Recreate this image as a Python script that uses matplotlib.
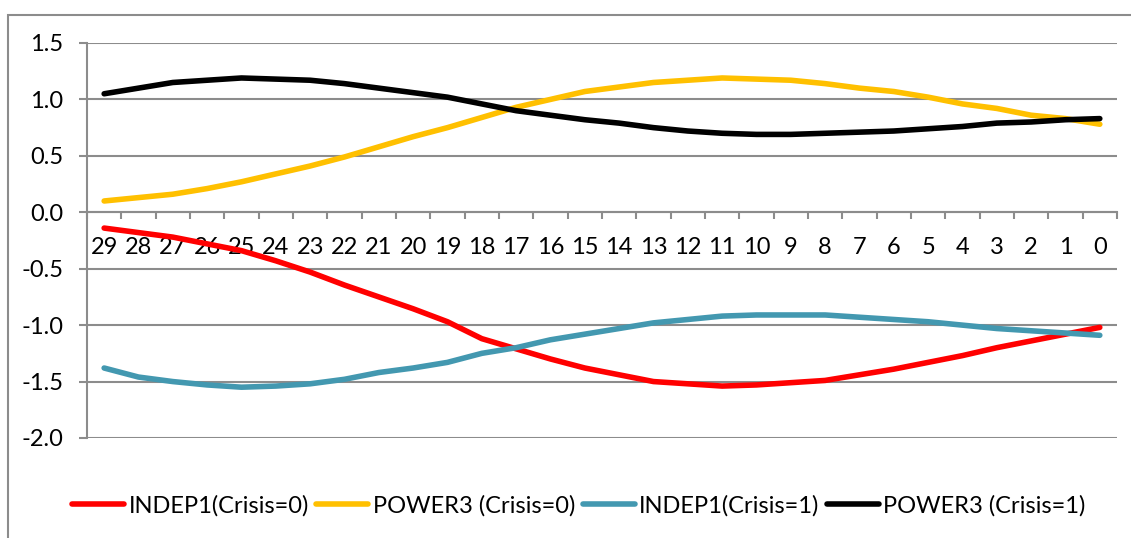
import numpy as np
import matplotlib.pyplot as plt
from matplotlib.patches import Rectangle

# Periods before the event (categories, left to right)
periods = ['29', '28', '27', '26', '25', '24', '23', '22', '21', '20',
           '19', '18', '17', '16', '15', '14', '13', '12', '11', '10',
           '9', '8', '7', '6', '5', '4', '3', '2', '1', '0']

indep1_c0 = [-0.14, -0.18, -0.22, -0.28, -0.34, -0.43, -0.53, -0.645, -0.75, -0.855,
             -0.97, -1.12, -1.21, -1.30, -1.38, -1.44, -1.50, -1.52, -1.54, -1.53,
             -1.51, -1.49, -1.44, -1.39, -1.33, -1.27, -1.20, -1.14, -1.08, -1.02]
power3_c0 = [0.10, 0.13, 0.16, 0.21, 0.27, 0.34, 0.41, 0.49, 0.58, 0.67,
             0.75, 0.84, 0.93, 1.00, 1.07, 1.11, 1.15, 1.17, 1.19, 1.18,
             1.17, 1.14, 1.10, 1.07, 1.02, 0.96, 0.92, 0.86, 0.83, 0.78]
indep1_c1 = [-1.38, -1.46, -1.50, -1.53, -1.55, -1.54, -1.52, -1.48, -1.42, -1.38,
             -1.33, -1.25, -1.20, -1.13, -1.08, -1.03, -0.98, -0.95, -0.92, -0.91,
             -0.91, -0.91, -0.93, -0.95, -0.97, -1.00, -1.03, -1.05, -1.07, -1.09]
power3_c1 = [1.05, 1.10, 1.15, 1.17, 1.19, 1.18, 1.17, 1.14, 1.10, 1.06,
             1.02, 0.96, 0.90, 0.86, 0.82, 0.79, 0.75, 0.72, 0.70, 0.69,
             0.69, 0.70, 0.71, 0.72, 0.74, 0.76, 0.79, 0.80, 0.82, 0.83]

series = [
    ('INDEP1(Crisis=0)', indep1_c0, '#FF0000'),
    ('POWER3 (Crisis=0)', power3_c0, '#FFC000'),
    ('INDEP1(Crisis=1)', indep1_c1, '#4398B0'),
    ('POWER3 (Crisis=1)', power3_c1, '#000000'),
]

plt.rcParams['font.family'] = ['Lato', 'DejaVu Sans']
grid_col = '#8C8C8C'

fig = plt.figure(figsize=(11.31, 5.38), dpi=100)
ax = fig.add_axes([0.0769, 0.1859, 0.9107, 0.7342])

x = np.arange(len(periods))
for name, vals, col in series:
    ax.plot(x, vals, color=col, lw=4, label=name,
            solid_capstyle='round', solid_joinstyle='round')

ax.set_xlim(-0.5, len(periods) - 0.5)
ax.set_ylim(-2.0, 1.5)
ax.set_yticks(np.arange(-2.0, 1.51, 0.5))
ax.set_yticklabels(['%.1f' % v for v in np.arange(-2.0, 1.51, 0.5)])
ax.yaxis.grid(True, color=grid_col, lw=1.5)
ax.set_axisbelow(True)

# category axis sits on y = 0
ax.spines['bottom'].set_position(('data', 0))
ax.spines['bottom'].set_color(grid_col)
ax.spines['bottom'].set_linewidth(1.5)
ax.spines['left'].set_color(grid_col)
ax.spines['left'].set_linewidth(1.5)
ax.spines['top'].set_visible(False)
ax.spines['right'].set_visible(False)

ax.set_xticks(x)
ax.set_xticklabels(periods)
ax.set_xticks(np.arange(-0.5, len(periods)), minor=True)
ax.tick_params(axis='x', which='major', length=0, pad=18, labelsize=17)
ax.tick_params(axis='x', which='minor', length=5, width=1.5, color=grid_col,
               direction='out')
ax.tick_params(axis='y', length=6, width=1.5, color=grid_col, labelsize=17, pad=11)

leg = fig.legend(loc='center', bbox_to_anchor=(0.512, 0.060), ncol=4,
                 frameon=False, fontsize=17, handlelength=2.2,
                 handletextpad=0.2, columnspacing=0.3)
for h in leg.get_lines():
    h.set_linewidth(4)

# chart area border (partly cropped in the original)
fig.patches.append(Rectangle((0.0071, -0.1), 1.1, 1.072, transform=fig.transFigure,
                             fill=False, edgecolor=grid_col, lw=1.5))

fig.savefig('out.png', dpi=100)
